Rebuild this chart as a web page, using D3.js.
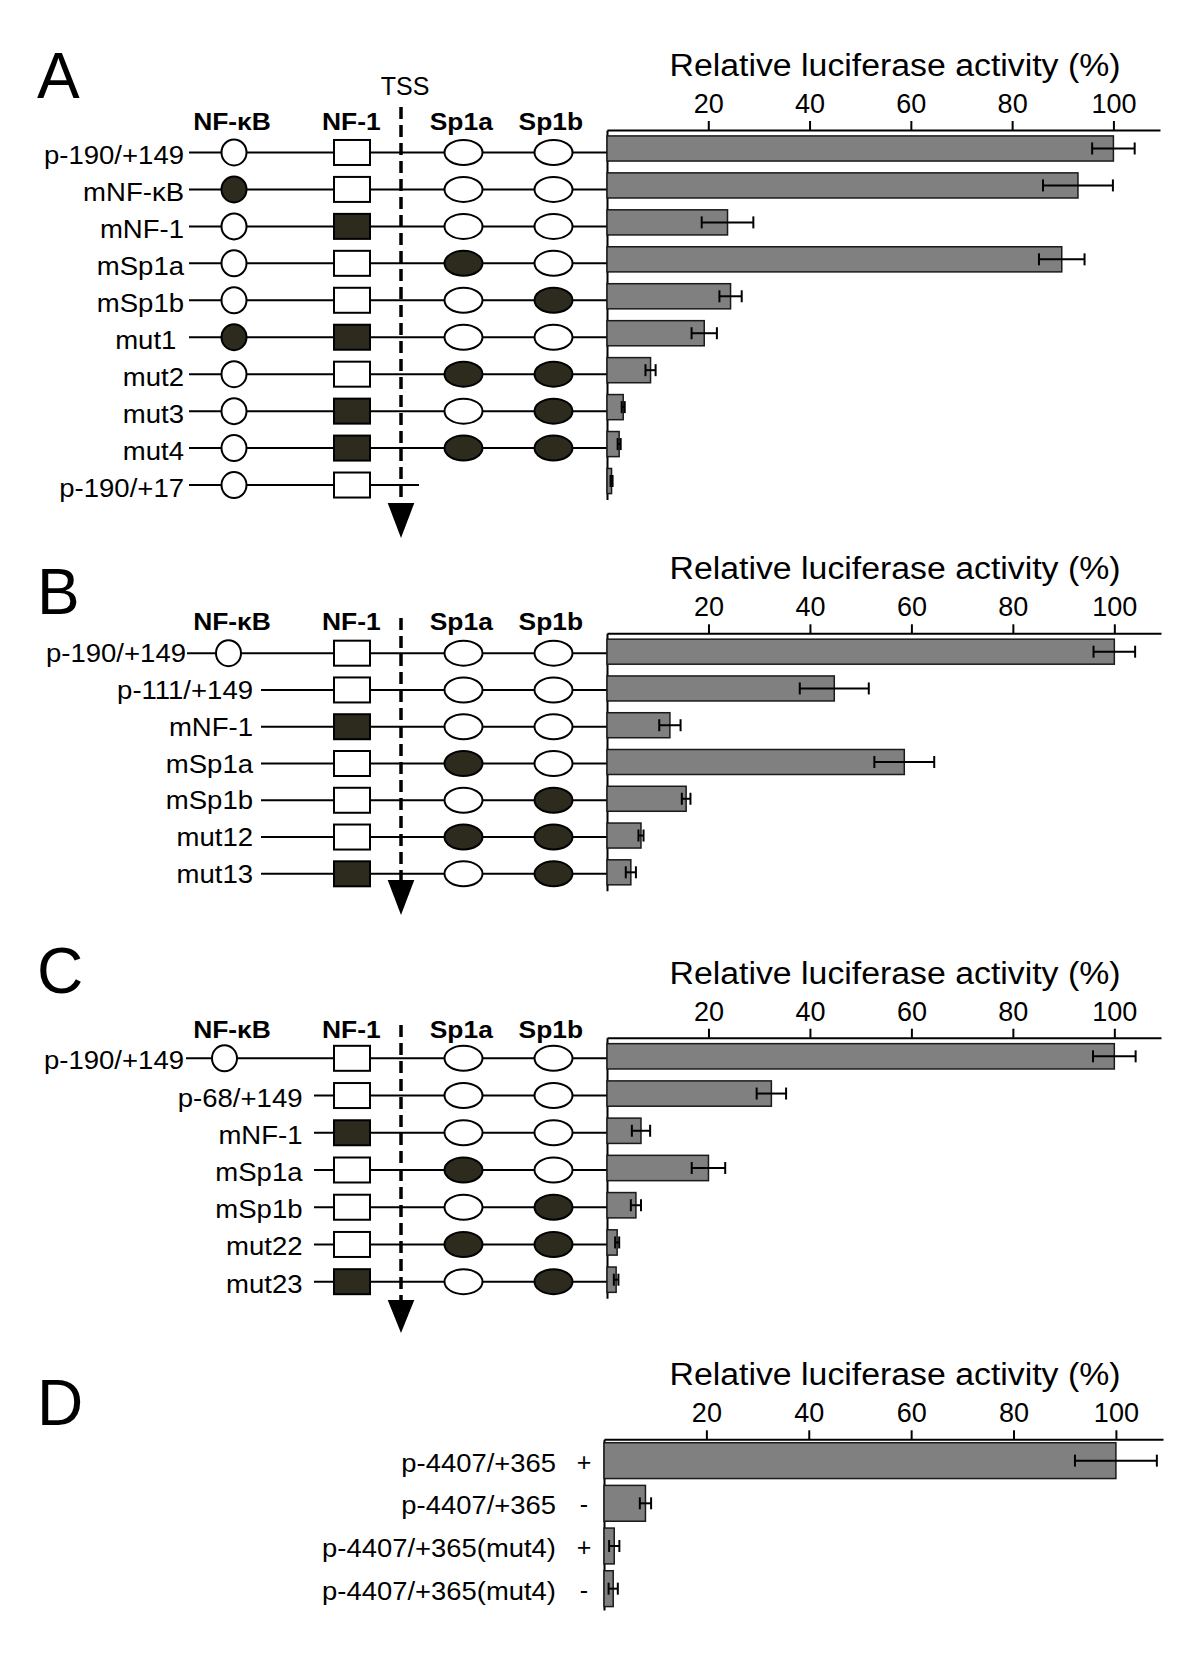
<!DOCTYPE html>
<html>
<head>
<meta charset="utf-8">
<script src="https://cdn.jsdelivr.net/npm/d3@7"></script>
<style>
	body { margin: 0; background: #fff; }
	text { font-family: 'Liberation Sans', Arial, sans-serif; fill: #000; }
</style>
</head>
<body>
<div class="container"></div>
<script>
// panel A
var labelsA = ['p-190/+149', 'mNF-κB', 'mNF-1', 'mSp1a', 'mSp1b', 'mut1\u00a0', 'mut2', 'mut3', 'mut4', 'p-190/+17'];
var sitesA = ['oooo', 'fooo', 'ofoo', 'oofo', 'ooof', 'ffoo', 'ooff', 'ofof', 'offf', 'oo--'];
var valuesA = [100, 93, 23.8, 89.8, 24.4, 19.2, 8.6, 3.2, 2.4, 0.9];
var errorsA = [4.2, 6.9, 5.1, 4.5, 2.2, 2.5, 1.0, 0.3, 0.3, 0.2];

// panel B
var labelsB = ['p-190/+149', 'p-111/+149', 'mNF-1', 'mSp1a', 'mSp1b', 'mut12', 'mut13'];
var sitesB = ['oooo', '-ooo', '-foo', '-ofo', '-oof', '-off', '-fof'];
var valuesB = [100, 44.8, 12.4, 58.6, 15.6, 6.7, 4.7];
var errorsB = [4.1, 6.8, 2.1, 5.9, 0.85, 0.5, 1.0];

// panel C
var labelsC = ['p-190/+149', 'p-68/+149', 'mNF-1', 'mSp1a', 'mSp1b', 'mut22', 'mut23'];
var sitesC = ['oooo', '-ooo', '-foo', '-ofo', '-oof', '-off', '-fof'];
var valuesC = [100, 32.4, 6.7, 20.0, 5.7, 2.0, 1.8];
var errorsC = [4.2, 2.9, 1.8, 3.3, 1.0, 0.4, 0.45];

// panel D
var labelsD = ['p-4407/+365', 'p-4407/+365', 'p-4407/+365(mut4)', 'p-4407/+365(mut4)'];
var signsD = ['+', '-', '+', '-'];
var valuesD = [100, 8.1, 2.0, 1.8];
var errorsD = [8, 1.1, 1.0, 0.9];

var tickValues = [20, 40, 60, 80, 100];
var siteNames = ['NF-κB', 'NF-1', 'Sp1a', 'Sp1b'];
var axisTitle = 'Relative luciferase activity (%)';

var DARK = '#2d2b1d',
	BAR = '#808080';

var svg = d3.select('.container')
	.append('svg')
	.attr('width', 1200)
	.attr('height', 1663);

svg.append('rect')
	.attr('width', 1200)
	.attr('height', 1663)
	.attr('fill', '#fff');

// text that is a little wider than Arial in the original figure
function placeText(sel, x, y, k) {
	return sel.attr('transform', 'translate(' + x + ',' + y + ') scale(' + k + ',1)');
}

function drawChart(cfg) {
	var g = svg.append('g'),
		x, y, bw;

	x = d3.scaleLinear()
		.domain([0, 109.2])
		.range([cfg.x0, cfg.x1]);

	y = d3.scaleBand()
		.domain(d3.range(cfg.values.length))
		.range([cfg.top, cfg.bottom])
		.paddingInner(cfg.padIn)
		.paddingOuter(cfg.padOut);

	bw = y.bandwidth();

	// panel letter
	g.append('text')
		.attr('x', 37)
		.attr('y', cfg.letterY)
		.style('font-size', '64px')
		.text(cfg.letter);

	// axis title
	g.append('text')
		.attr('x', 895)
		.attr('y', cfg.top - 54)
		.attr('text-anchor', 'middle')
		.attr('textLength', 451)
		.attr('lengthAdjust', 'spacingAndGlyphs')
		.style('font-size', '31px')
		.text(axisTitle);

	var xAxis = g.append('g')
		.attr('transform', 'translate(0,' + cfg.top + ')')
		.call(d3.axisTop(x)
			.tickValues(tickValues)
			.tickSize(9)
			.tickSizeOuter(0)
			.tickPadding(8));

	xAxis.select('.domain').attr('stroke-width', 2);
	xAxis.selectAll('.tick line').attr('stroke-width', 2);
	xAxis.selectAll('.tick text')
		.attr('fill', '#000')
		.style('font-size', '27px')
		.style('font-family', "'Liberation Sans', Arial, sans-serif");

	var yAxis = g.append('g')
		.attr('transform', 'translate(' + cfg.x0 + ',0)')
		.call(d3.axisLeft(y).tickValues([]).tickSizeOuter(0));

	yAxis.select('.domain').attr('stroke-width', 2);

	// construct lines and binding sites
	if (cfg.sites) {
		var siteX = [cfg.nfkbX, 352, 463.5, 553.5];

		// headers
		g.selectAll('.site-name')
			.data(siteNames)
			.enter().append('text')
			.classed('site-name', true)
			.attr('text-anchor', 'middle')
			.style('font-size', '24px')
			.style('font-weight', 'bold')
			.each(function (d, i) {
				placeText(d3.select(this), [232, 351.3, 461.3, 550.8][i], cfg.headerY, 1.1);
			})
			.text(function (d) { return d; });

		if (cfg.tss) {
			g.append('text')
				.attr('x', 405)
				.attr('y', cfg.tss)
				.attr('text-anchor', 'middle')
				.style('font-size', '25px')
				.text('TSS');
		}

		cfg.sites.forEach(function (s, i) {
			var ly = y(i) + bw / 2 + cfg.lineDy,
				truncated = s[0] === '-',
				startX = truncated ? cfg.shortLine : cfg.longLine,
				endX = s[3] === '-' ? 419 : cfg.x0,
				row = g.append('g');

			placeText(row.append('text'), truncated ? cfg.shortLabel : cfg.longLabel, ly + cfg.labelDy, 1.08)
				.attr('text-anchor', 'end')
				.style('font-size', '25.5px')
				.text(cfg.labels[i]);

			row.append('line')
				.attr('x1', startX)
				.attr('x2', endX)
				.attr('y1', ly)
				.attr('y2', ly)
				.attr('stroke', '#000')
				.attr('stroke-width', 2);

			s.split('').forEach(function (state, k) {
				if (state === '-') {
					return;
				}

				var fill = state === 'f' ? DARK : '#fff',
					shape;

				if (k === 1) {
					shape = row.append('rect')
						.attr('x', siteX[k] - 18)
						.attr('y', ly - 12.5)
						.attr('width', 36)
						.attr('height', 25);
				} else {
					shape = row.append('ellipse')
						.attr('cx', siteX[k])
						.attr('cy', ly)
						.attr('rx', k === 0 ? 12.5 : 19)
						.attr('ry', k === 0 ? 13 : 12.5);
				}

				shape
					.attr('fill', fill)
					.attr('stroke', '#000')
					.attr('stroke-width', 2);
			});
		});

		// transcription start site
		g.append('line')
			.attr('x1', 401)
			.attr('x2', 401)
			.attr('y1', cfg.dash[0])
			.attr('y2', cfg.dash[1])
			.attr('stroke', '#000')
			.attr('stroke-width', 3.5)
			.attr('stroke-dasharray', '12,6');

		g.append('path')
			.attr('d', 'M387.7,' + cfg.dash[1] + 'L414.3,' + cfg.dash[1] + 'L401,' + cfg.dash[2] + 'Z')
			.attr('fill', '#000');
	}

	// panel D style labels with +/- column
	if (cfg.signs) {
		cfg.labels.forEach(function (label, i) {
			var cy = y(i) + bw / 2;

			placeText(g.append('text'), 556, cy + 11, 1.075)
				.attr('text-anchor', 'end')
				.style('font-size', '25.5px')
				.text(label);

			g.append('text')
				.attr('x', 584)
				.attr('y', cy + 10)
				.attr('text-anchor', 'middle')
				.style('font-size', '25px')
				.text(cfg.signs[i]);
		});
	}

	// bars
	g.selectAll('.bar')
		.data(cfg.values)
		.enter().append('rect')
		.classed('bar', true)
		.attr('x', x(0))
		.attr('y', function (d, i) { return y(i); })
		.attr('width', function (d) { return x(d) - x(0); })
		.attr('height', bw)
		.attr('fill', BAR)
		.attr('stroke', '#1a1a1a')
		.attr('stroke-width', 1.5);

	// error bars
	var err = g.selectAll('.err')
		.data(cfg.values)
		.enter().append('g')
		.classed('err', true)
		.attr('stroke', '#000')
		.attr('stroke-width', 2);

	err.append('line')
		.attr('x1', function (d, i) { return x(d - cfg.errors[i]); })
		.attr('x2', function (d, i) { return x(d + cfg.errors[i]); })
		.attr('y1', function (d, i) { return y(i) + bw / 2; })
		.attr('y2', function (d, i) { return y(i) + bw / 2; });

	[-1, 1].forEach(function (side) {
		err.append('line')
			.attr('x1', function (d, i) { return x(d + side * cfg.errors[i]); })
			.attr('x2', function (d, i) { return x(d + side * cfg.errors[i]); })
			.attr('y1', function (d, i) { return y(i) + bw / 2 - 6; })
			.attr('y2', function (d, i) { return y(i) + bw / 2 + 6; });
	});
}

drawChart({
	letter: 'A', letterY: 98,
	labels: labelsA, sites: sitesA, values: valuesA, errors: errorsA,
	x0: 607, x1: 1160, top: 130, bottom: 499.5, padIn: 0.32, padOut: 0.16,
	lineDy: 4, labelDy: 11.5, nfkbX: 234,
	longLabel: 184, longLine: 189, shortLabel: 253, shortLine: 261,
	headerY: 130, tss: 95, dash: [107, 503, 538]
});

drawChart({
	letter: 'B', letterY: 614,
	labels: labelsB, sites: sitesB, values: valuesB, errors: errorsB,
	x0: 607, x1: 1161, top: 633.3, bottom: 890.7, padIn: 0.32, padOut: 0.16,
	lineDy: 1.5, labelDy: 9, nfkbX: 228.5,
	longLabel: 186, longLine: 187, shortLabel: 253, shortLine: 261,
	headerY: 630, dash: [618, 880, 915]
});

drawChart({
	letter: 'C', letterY: 993,
	labels: labelsC, sites: sitesC, values: valuesC, errors: errorsC,
	x0: 607, x1: 1161, top: 1037.7, bottom: 1298.3, padIn: 0.32, padOut: 0.16,
	lineDy: 2, labelDy: 11, nfkbX: 224.5,
	longLabel: 184, longLine: 186, shortLabel: 302.5, shortLine: 314,
	headerY: 1038, dash: [1025, 1300, 1333]
});

drawChart({
	letter: 'D', letterY: 1425,
	labels: labelsD, signs: signsD, values: valuesD, errors: errorsD,
	x0: 604, x1: 1163, top: 1439.3, bottom: 1610, padIn: 0.16, padOut: 0.08
});
</script>
</body>
</html>
